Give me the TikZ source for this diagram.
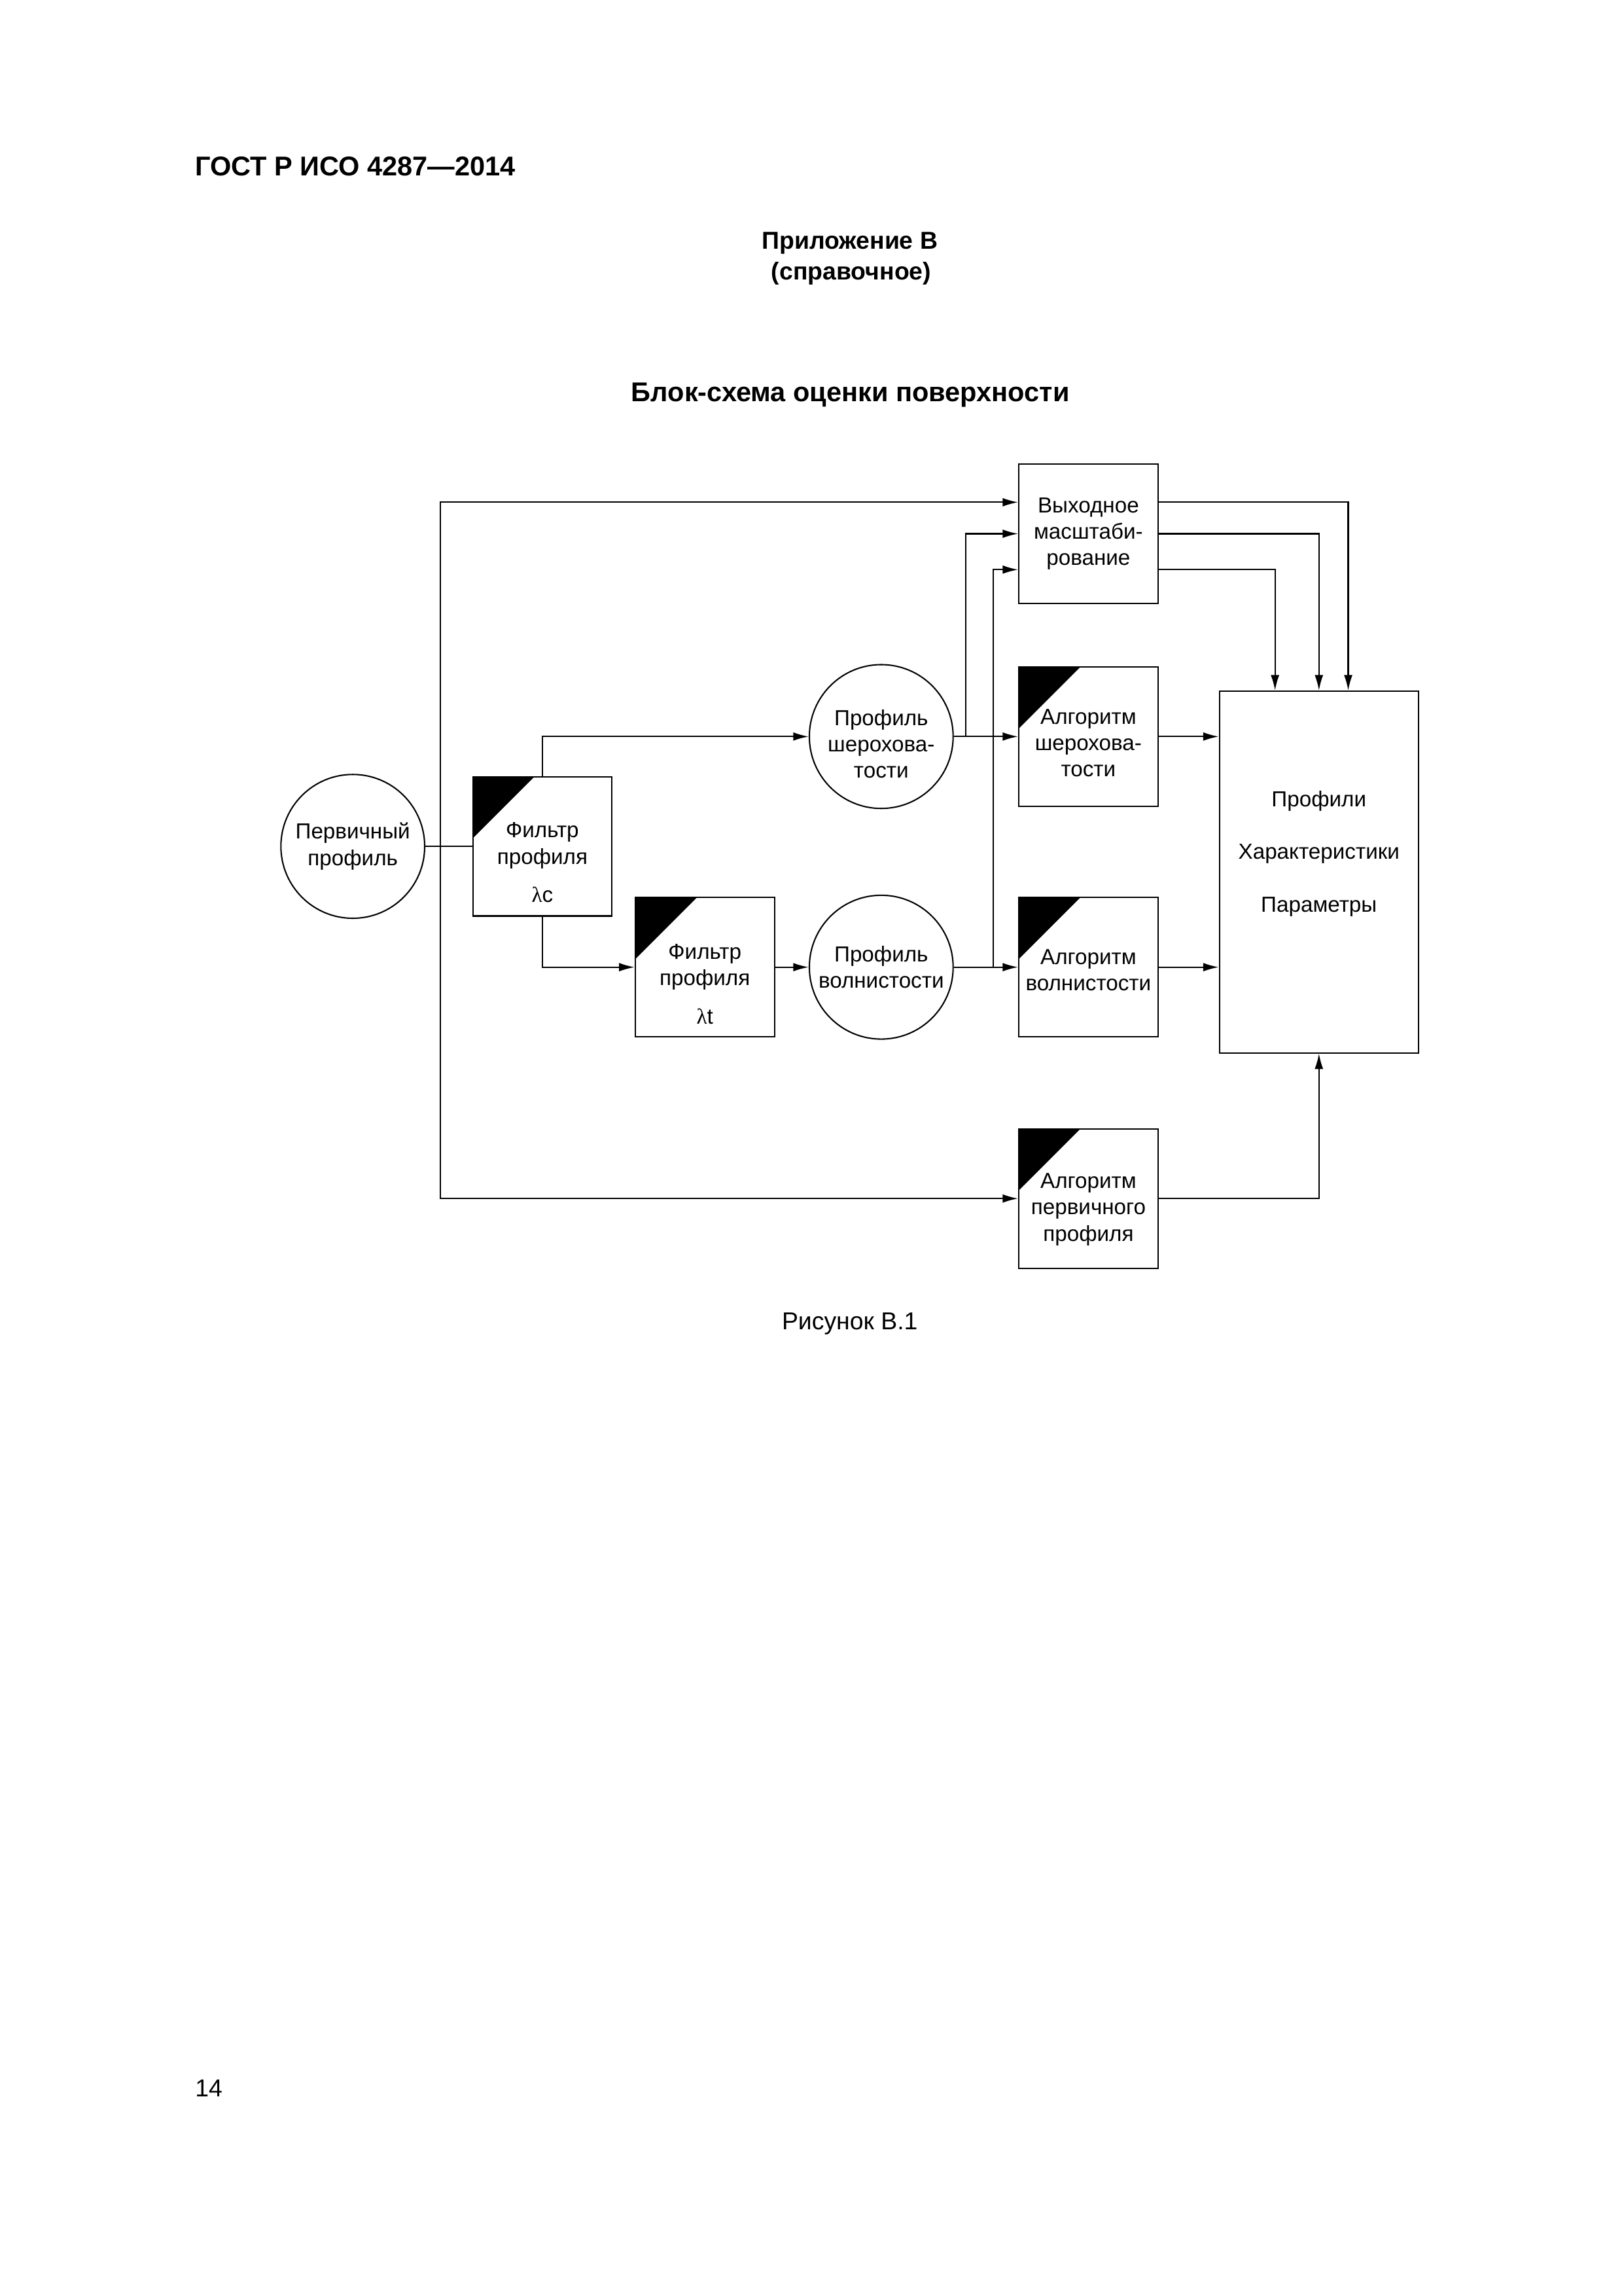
\documentclass[tikz,border=0pt]{standalone}
\usepackage{fontspec}
\setmainfont{Liberation Sans}
\newfontfamily\lamfont{Liberation Serif}
\usetikzlibrary{arrows.meta,calc}

\tikzset{
  ln/.style={line width=0.5pt},
  blk/.style={draw, ln, minimum width=18mm, minimum height=18mm, inner sep=0pt},
  tri/.style={path picture={\fill (path picture bounding box.north west) -- ++(42,0) -- ++(-42,42) -- cycle;}},
  prof/.style={draw, ln, circle, minimum size=18.6mm, inner sep=0pt, align=center, font=\fontsize{8}{9.7}\selectfont},
  txt/.style={align=center, inner sep=0pt, font=\fontsize{8}{9.7}\selectfont},
  arr/.style={ln, -{Latex[length=2mm,width=1.1mm]}}
}

\begin{document}
\begin{tikzpicture}[x=0.18936mm,y=-0.18936mm]
\useasboundingbox (0,0) rectangle (1109,1568);

% page head
\node[anchor=base west, inner sep=0pt, font=\fontsize{10}{12}\selectfont\bfseries] (gost) at (133,120) {ГОСТ Р ИСО 4287—2014};
\node[anchor=base, inner sep=0pt, font=\fontsize{9}{11}\selectfont\bfseries] (app) at (580.5,170) {Приложение В};
\node[anchor=base, inner sep=0pt, font=\fontsize{9}{11}\selectfont\bfseries] (ref) at (581.5,191) {(справочное)};
\node[anchor=base, inner sep=0pt, font=\fontsize{10}{12}\selectfont\bfseries] (title) at (581,274) {Блок-схема оценки поверхности};

% profiles
\node[prof] (pp) at (241,578) {Первичный\\профиль};
\node[prof] (rsh) at (602,503) {};
\node[prof] (rvl) at (602,660.5) {Профиль\\волнистости};

% blocks
\node[blk] (vyh) at (743.5,364.5) {};
\node[blk, tri] (fc) at (370.5,578) {};
\node[blk, tri] (ft) at (481.5,660.5) {};
\node[blk, tri] (ash) at (743.5,503) {};
\node[blk, tri] (avl) at (743.5,660.5) {};
\node[blk, tri] (apr) at (743.5,818.5) {};
\node[draw, ln, minimum width=25.75mm, minimum height=46.77mm] (res) at (901,595.5) {};

% block texts
\node[txt] (rsh-t) at (602,508) {Профиль\\шерохова-\\тости};
\node[txt] (vyh-t) at (vyh) {Выходное\\масштаби-\\рование};
\node[txt] (fc-t) at (370.5,589) {Фильтр\\профиля\\[4.3pt]{\lamfont λ}c};
\node[txt] (ft-t) at (481.5,672) {Фильтр\\профиля\\[4.3pt]{\lamfont λ}t};
\node[txt] (ash-t) at (743.5,507.5) {Алгоритм\\шерохова-\\тости};
\node[txt] (avl-t) at (743.5,662.5) {Алгоритм\\волнистости};
\node[txt] (apr-t) at (743.5,826) {Алгоритм\\первичного\\профиля};
\node[txt] (res-t) at (901,583) {Профили\\[9.7pt]Характеристики\\[9.7pt]Параметры};

% connectors
\coordinate (split) at (301,578);
\draw[ln] (pp) -- (fc);
\draw[arr] (split) |- ($(vyh.west)+(0,-21.5)$);
\draw[arr] (split) |- (apr.west);
\draw[arr] (fc.north) |- (rsh.west);
\draw[arr] (fc.south) |- (ft.west);
\draw[arr] (ft) -- (rvl);
\draw[arr] (rsh) -- (ash);
\draw[arr] (rvl) -- (avl);
\draw[arr] ($(rsh.east)+(8,0)$) |- (vyh.west);
\draw[arr] ($(rvl.east)+(27,0)$) |- ($(vyh.west)+(0,24.5)$);
\draw[arr] (ash) -- (ash -| res.west);
\draw[arr] (avl) -- (avl -| res.west);
\draw[arr] (apr) -| (res.south);
\draw[arr] ($(vyh.east)+(0,-21.5)$) -| ($(res.north)+(20,0)$);
\draw[arr] (vyh) -| (res.north);
\draw[arr] ($(vyh.east)+(0,24.5)$) -| ($(res.north)+(-30,0)$);

% caption and page number
\node[anchor=base, inner sep=0pt, font=\fontsize{9}{11}\selectfont] (cap) at (580.5,908) {Рисунок В.1};
\node[anchor=base west, inner sep=0pt, font=\fontsize{9}{11}\selectfont] (page) at (133,1432) {14};
\end{tikzpicture}
\end{document}
